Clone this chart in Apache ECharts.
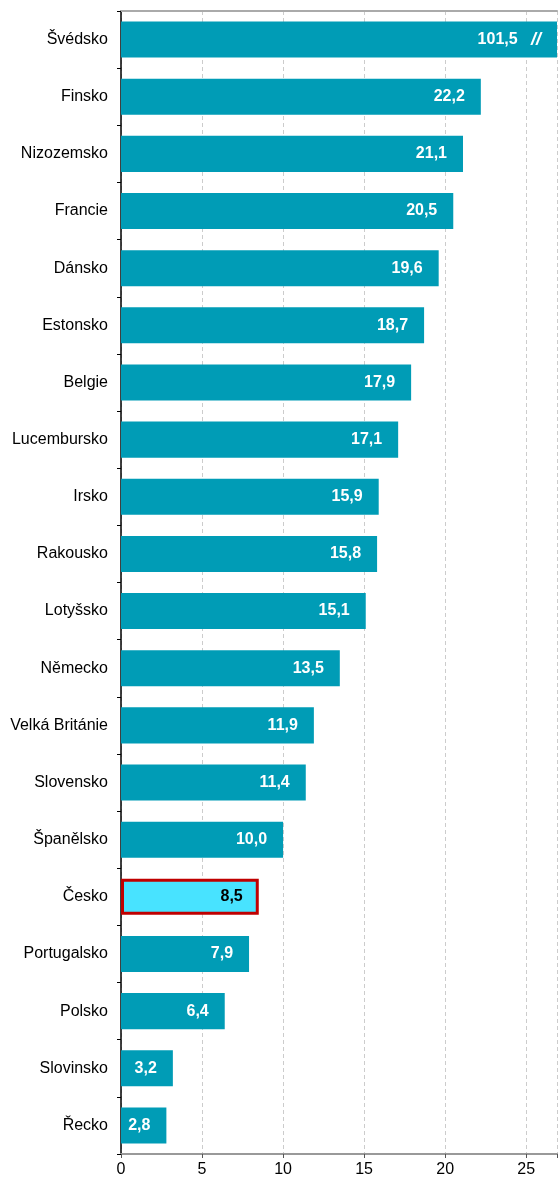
<!DOCTYPE html>
<html><head><meta charset="utf-8">
<script src="https://cdn.jsdelivr.net/npm/echarts@6/dist/echarts.min.js"></script>
<style>html,body{margin:0;padding:0;background:#fff;overflow:hidden}#c{width:560px;height:1182px}</style>
</head><body><div id="c"></div>
<script>
const categories = ['Švédsko','Finsko','Nizozemsko','Francie','Dánsko','Estonsko','Belgie','Lucembursko','Irsko','Rakousko','Lotyšsko','Německo','Velká Británie','Slovensko','Španělsko','Česko','Portugalsko','Polsko','Slovinsko','Řecko'];
const values = [101.5,22.2,21.1,20.5,19.6,18.7,17.9,17.1,15.9,15.8,15.1,13.5,11.9,11.4,10.0,8.5,7.9,6.4,3.2,2.8];
const xTicks = [0,5,10,15,20,25];
const axisMax = 26.9;
const highlight = 'Česko';
const fmt = v => v.toFixed(1).replace('.', ',');
const font = '"Liberation Sans", Arial, sans-serif';

const data = values.map((v, i) => {
  const isH = categories[i] === highlight;
  const broken = v > axisMax;
  return {
    value: Math.min(v, axisMax),
    realValue: v,
    itemStyle: isH ? {color: '#48E3FF', borderColor: '#C00000', borderWidth: 3} : {color: '#009CB6'},
    label: {
      color: isH ? '#000' : '#fff',
      formatter: broken ? ('{a|' + fmt(v) + '}   {b|//}') : fmt(v)
    }
  };
});

const chart = echarts.init(document.getElementById('c'));
chart.setOption({
  animation: false,
  textStyle: {fontFamily: font},
  grid: {left: 121, right: 0, top: 11, bottom: 28, containLabel: false},
  xAxis: [{
    type: 'value', min: 0, max: axisMax, interval: 5,
    axisLine: {show: true, lineStyle: {color: '#999', width: 2}},
    axisTick: {show: true, length: 4, lineStyle: {color: '#555'}},
    axisLabel: {color: '#000', fontSize: 16, margin: 8, fontFamily: font,
      formatter: v => xTicks.includes(v) ? String(v) : ''},
    splitLine: {show: true, lineStyle: {color: '#ccc', type: [4, 3], width: 1}}
  }, {
    type: 'value', position: 'top', min: 0, max: axisMax, interval: 5,
    axisLine: {show: true, lineStyle: {color: '#aaa', width: 2}},
    axisTick: {show: false}, axisLabel: {show: false}, splitLine: {show: false}
  }],
  yAxis: {
    type: 'category', data: categories, inverse: true,
    axisLine: {show: true, lineStyle: {color: '#000', width: 1.5}},
    axisTick: {show: true, length: 4, lineStyle: {color: '#000'}},
    axisLabel: {color: '#000', fontSize: 16, margin: 13, fontFamily: font}
  },
  series: [{
    type: 'bar', data: data, barCategoryGap: '37%',
    label: {
      show: true, position: 'insideRight', distance: 16,
      fontSize: 16, fontWeight: 'bold', fontFamily: font,
      rich: {
        a: {color: '#fff', fontSize: 16, fontWeight: 'bold', fontFamily: font},
        b: {color: '#fff', fontSize: 18, fontWeight: 'bold', fontStyle: 'italic', fontFamily: font}
      }
    }
  }]
});
</script></body></html>
